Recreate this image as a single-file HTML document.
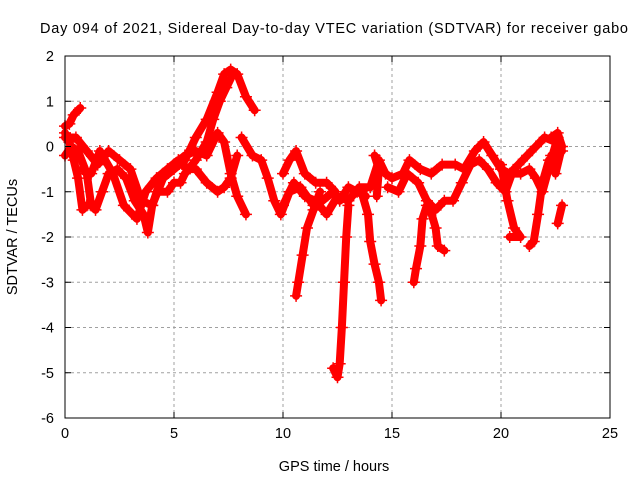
<!DOCTYPE html>
<html><head><meta charset="utf-8"><style>
body{margin:0;background:#fff;}
svg{display:block;font-family:"Liberation Sans",sans-serif;}
</style></head><body>
<svg id="chart" width="640" height="480" viewBox="0 0 640 480">
<text x="334" y="33" font-size="14.5" text-anchor="middle" textLength="588" lengthAdjust="spacing">Day 094 of 2021, Sidereal Day-to-day VTEC variation (SDTVAR) for receiver gabo</text>
<text x="334" y="471" font-size="14.5" text-anchor="middle">GPS time / hours</text>
<text x="17" y="237" font-size="14.5" text-anchor="middle" transform="rotate(-90 17 237)">SDTVAR / TECUs</text>
<g id="grid"></g>
<g id="series"></g>
<rect x="65" y="56" width="545" height="362" fill="none" stroke="#000" stroke-width="1"/>
<g id="ticks"></g>
</svg>
<script>
const xTicks = [0,5,10,15,20,25];
const yTicks = [-6,-5,-4,-3,-2,-1,0,1,2];
const s1x=[0,0.3,0.6,1,1.2,1.4,1.7,2,2.4,2.8,3.2,3.6,3.8,4,4.5,5,5.5,6,6.5,7,7.3,7.6,7.9,8.3,8.7];
const s1y=[-0.2,0,-0.1,-0.6,-1.3,-1.4,-1.0,-0.6,-0.5,-0.7,-1.2,-1.5,-1.9,-1.3,-0.7,-0.5,-0.3,0.2,0.6,1.2,1.6,1.7,1.6,1.1,0.8];
const s2x=[0,0.5,1,1.5,2,2.5,3,3.5,4,4.5,5,5.5,6,6.5,7,7.3,7.6,7.9,8.3];
const s2y=[0.2,0.2,-0.1,-0.4,-0.1,-0.3,-0.5,-1.2,-1.3,-0.6,-0.4,-0.2,-0.1,-0.2,0.3,0.1,-0.6,-1.1,-1.5];
const s3x=[0.8,1.2,1.6,2.2,2.7,3.3,3.7,4.2,4.7,5.2,5.6,6,6.5,7,7.3,7.6,7.9];
const s3y=[-0.5,-0.6,-0.1,-0.6,-1.3,-1.6,-1.0,-0.7,-0.5,-0.3,-0.5,-0.5,-0.8,-1.0,-0.9,-0.7,-0.2];
const s4x=[0,0.2,0.4,0.6,0.8,1];
const s4y=[0.3,0.1,-0.3,-0.7,-1.4,-1.3];
const s5x=[0,0.2,0.4,0.7];
const s5y=[0.45,0.5,0.7,0.85];
const s6x=[4.2,4.7,5,5.3,5.5,6,6.5,6.8,7.1,7.4,7.6];
const s6y=[-1.0,-1.0,-0.8,-0.8,-0.6,-0.3,0.1,0.6,1.0,1.3,1.5];
const s7x=[8.1,8.6,9,9.3,9.6,9.9,10.3,10.8,11.4,11.8,12.3,12.6,13,13.4,13.8];
const s7y=[0.2,-0.2,-0.3,-0.7,-1.2,-1.5,-1.0,-0.9,-1.3,-1.2,-1.0,-1.2,-0.9,-1.0,-1.1];
const s8x=[11.7,11.4,11.1,10.9,10.7,10.6];
const s8y=[-1.0,-1.4,-1.8,-2.4,-3.0,-3.3];
const s9x=[13,12.9,12.8,12.7,12.6,12.5,12.3];
const s9y=[-1.3,-2.0,-3.0,-4.0,-4.8,-5.1,-4.9];
const s10x=[13.6,13.9,14,14.2,14.4,14.5];
const s10y=[-1.0,-1.5,-2.1,-2.6,-3.0,-3.4];
const s11x=[10,10.3,10.6,11,11.5,12,12.4];
const s11y=[-0.6,-0.3,-0.1,-0.6,-0.8,-0.8,-1.0];
const s12x=[10,10.5,11,11.5,12,12.5,13,13.5,14,14.4,14.7,15,15.5,15.8,16.3,16.8,17.3,17.9,18.3,18.8,19.2,19.6,20,20.4,20.8,21.2,21.6,22,22.5,22.8];
const s12y=[-1.3,-0.8,-1.1,-1.2,-1.5,-1.1,-1.2,-0.9,-0.9,-0.3,-0.6,-0.7,-0.6,-0.3,-0.5,-0.6,-0.4,-0.4,-0.5,-0.1,0.1,-0.2,-0.5,-0.6,-0.4,-0.2,0,0.2,0.1,-0.1];
const s13x=[14.8,15.3,15.7,16.2,16.6,17,17.4,17.8,18.2,18.6,19,19.4,19.8,20.2,20.5,20.9,21.3,21.6,21.9,22.3,22.6];
const s13y=[-0.9,-1.0,-0.6,-0.8,-1.2,-1.4,-1.2,-1.2,-0.8,-0.4,-0.3,-0.5,-0.8,-1.0,-0.6,-0.6,-0.5,-0.7,-1.0,-0.3,0.2];
const s14x=[16.6,16.4,16.3,16.1,16.0];
const s14y=[-1.3,-1.6,-2.2,-2.7,-3.0];
const s15x=[16.7,17,17.1,17.4];
const s15y=[-1.3,-1.8,-2.2,-2.3];
const s16x=[20,20.3,20.6,20.9,20.4];
const s16y=[-0.4,-1.2,-1.8,-2.0,-2.0];
const s17x=[22.2,21.9,21.7,21.5,21.3];
const s17y=[-0.3,-0.8,-1.5,-2.1,-2.2];
const s18x=[22.6,22.8];
const s18y=[-1.7,-1.3];
const s19x=[22.3,22.6,22.8,22.5,22.3];
const s19y=[0.2,0.3,0.0,-0.6,-0.2];
const s20x=[14.2,14.4,14.3];
const s20y=[-0.2,-0.5,-1.1];
const seriesX=[s1x,s2x,s3x,s4x,s5x,s6x,s7x,s8x,s9x,s10x,s11x,s12x,s13x,s14x,s15x,s16x,s17x,s18x,s19x,s20x];
const seriesY=[s1y,s2y,s3y,s4y,s5y,s6y,s7y,s8y,s9y,s10y,s11y,s12y,s13y,s14y,s15y,s16y,s17y,s18y,s19y,s20y];

const X0=65,X1=610,Y0=418,Y1=56;
function sx(v){return X0+(v-0)/(25-0)*(X1-X0);}
function sy(v){return Y0-(v-(-6))/(2-(-6))*(Y0-Y1);}
const NS='http://www.w3.org/2000/svg';
const grid=document.getElementById('grid'),ticks=document.getElementById('ticks'),ser=document.getElementById('series');
function mk(t,a,p){const e=document.createElementNS(NS,t);for(const k in a)e.setAttribute(k,a[k]);p.appendChild(e);return e;}
xTicks.forEach(v=>{
  const x=sx(v);
  if(v>0&&v<25){const g=mk('line',{x1:x,x2:x,y1:Y1,y2:Y0,stroke:'#a0a0a0','stroke-dasharray':'3,3'},grid);
  
  }
  mk('line',{x1:x,x2:x,y1:Y0,y2:Y0-6,stroke:'#000'},ticks);
  mk('line',{x1:x,x2:x,y1:Y1,y2:Y1+6,stroke:'#000'},ticks);
  const t=mk('text',{x:x,y:Y0+20,'font-size':14.5,'text-anchor':'middle'},ticks);t.textContent=v;
  
  
});
yTicks.forEach(v=>{
  const y=sy(v);
  if(v>-6&&v<2){const g=mk('line',{x1:X0,x2:X1,y1:y,y2:y,stroke:'#a0a0a0','stroke-dasharray':'3,3'},grid);
  
  }
  mk('line',{x1:X0,x2:X0+6,y1:y,y2:y,stroke:'#000'},ticks);
  mk('line',{x1:X1,x2:X1-6,y1:y,y2:y,stroke:'#000'},ticks);
  const t=mk('text',{x:X0-11,y:y+5,'font-size':14.5,'text-anchor':'end'},ticks);t.textContent=v;
  
  
});
seriesX.forEach((xs,i)=>{
  const ys=seriesY[i];
  const pts=xs.map((v,j)=>sx(v)+','+sy(ys[j])).join(' ');
  const pl=mk('polyline',{points:pts,fill:'none',stroke:'#ff0000','stroke-width':8,'stroke-linejoin':'round','stroke-linecap':'round'},ser);
  
  
  xs.forEach((v,j)=>{
    const cx=sx(v),cy=sy(ys[j]);
    const m=mk('path',{d:`M${cx-6},${cy}h12M${cx},${cy-6}v12`,stroke:'#ff0000','stroke-width':1.5},ser);
    
    
  });
});
</script>
</body></html>
